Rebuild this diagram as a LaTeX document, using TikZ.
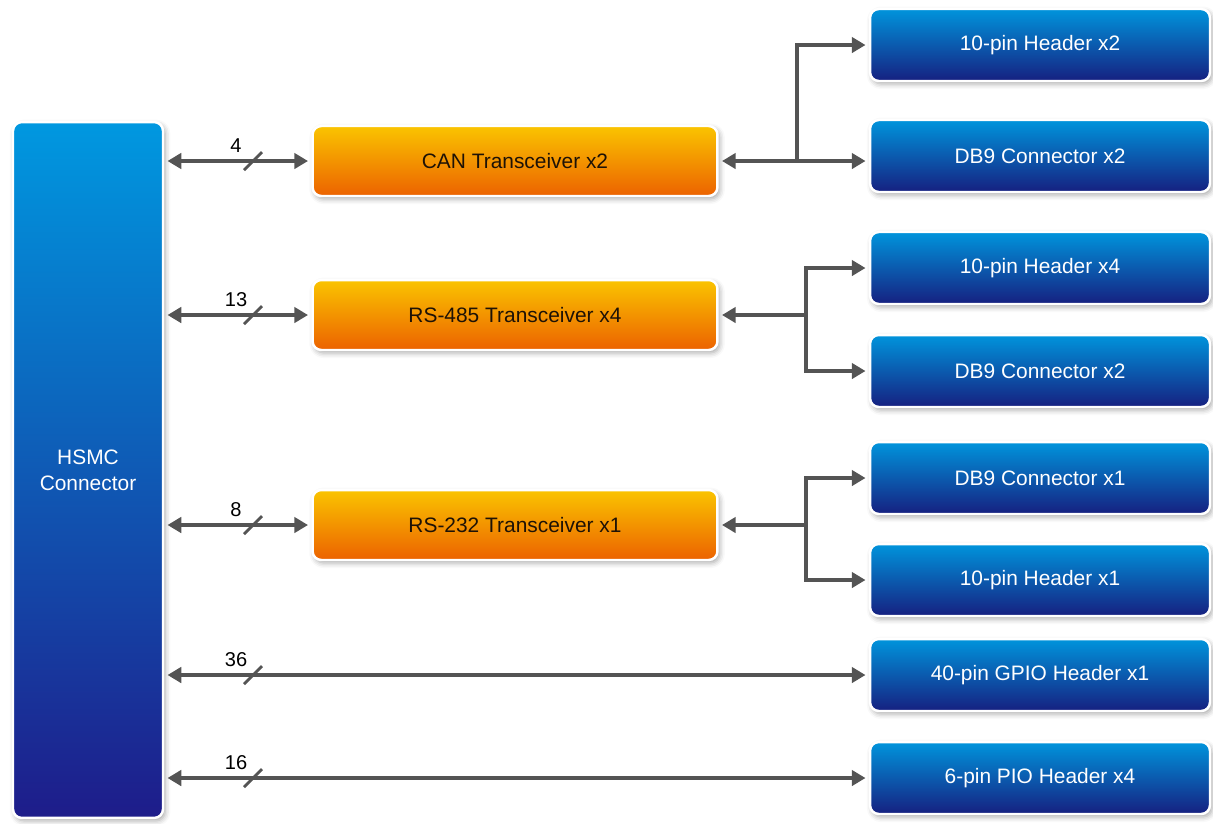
\documentclass[tikz,border=0pt]{standalone}
\usepackage{fontspec}
\setmainfont{Liberation Sans}
\usepackage{tikz}
\usetikzlibrary{arrows.meta,calc,shadows.blur}
\definecolor{hsmctop}{RGB}{0,152,224}
\definecolor{hsmcmid}{RGB}{0,88,178}
\definecolor{hsmcbot}{RGB}{30,28,138}
\definecolor{porttop}{RGB}{0,148,220}
\definecolor{portmid}{RGB}{8,80,180}
\definecolor{portbot}{RGB}{22,32,128}
\definecolor{xcvrtop}{RGB}{250,196,0}
\definecolor{xcvrmid}{RGB}{246,150,0}
\definecolor{xcvrbot}{RGB}{236,98,0}
\definecolor{wiregray}{RGB}{84,84,84}
\definecolor{xcvrtext}{RGB}{30,18,6}
\tikzset{
  box/.style={draw=white,line width=1.4pt,rounded corners=5pt,inner sep=0pt,outer sep=2.6pt,
    blur shadow={shadow xshift=1.2pt,shadow yshift=-1.6pt,shadow blur radius=3pt,shadow opacity=35},
    font=\fontsize{11.9}{14.7}\selectfont,align=center},
  hsmcbox/.style={box,top color=hsmctop,middle color=hsmcmid,bottom color=hsmcbot,text=white,
    minimum width=3cm,minimum height=13.92cm},
  xcvr/.style={box,top color=xcvrtop,middle color=xcvrmid,bottom color=xcvrbot,text=xcvrtext,
    minimum width=8.1cm,minimum height=1.4cm},
  port/.style={box,top color=porttop,middle color=portmid,bottom color=portbot,text=white,
    minimum width=6.8cm,minimum height=1.44cm},
  tip/.tip={Triangle[length=7.8pt,width=8.8pt]},
  bus/.style={line width=1.8pt,draw=wiregray,tip-tip},
  feed/.style={line width=1.8pt,draw=wiregray,-tip},
  busslash/.style={line width=1.6pt,draw=wiregray},
  buslbl/.style={font=\fontsize{11.4}{13}\selectfont,inner sep=0pt},
}
\begin{document}
\begin{tikzpicture}[x=0.02cm,y=-0.02cm]
  \useasboundingbox (0,0) rectangle (1213,823);
  % left side connector
  \node[hsmcbox] (hsmc) at (88,470) {HSMC\\Connector};
  % transceivers
  \node[xcvr] (can)   at (515,161) {CAN Transceiver x2};
  \node[xcvr] (rs485) at (515,315) {RS-485 Transceiver x4};
  \node[xcvr] (rs232) at (515,525) {RS-232 Transceiver x1};
  % external ports
  \node[port] (hdrA) at (1040,45)  {10-pin Header x2};
  \node[port] (dbA)  at (1040,156) {DB9 Connector x2};
  \node[port] (hdrB) at (1040,268) {10-pin Header x4};
  \node[port] (dbB)  at (1040,371) {DB9 Connector x2};
  \node[port] (dbC)  at (1040,478) {DB9 Connector x1};
  \node[port] (hdrC) at (1040,580) {10-pin Header x1};
  \node[port] (gpio) at (1040,675) {40-pin GPIO Header x1};
  \node[port] (pio)  at (1040,778) {6-pin PIO Header x4};

  % buses from the HSMC connector, with width marks
  \foreach \r/\n in {can/4,rs485/13,rs232/8,gpio/36,pio/16}{
    \draw[bus] (hsmc.east |- \r.west) -- (\r.west);
    \coordinate (s\r) at (253,0 |- \r.west);
    \draw[busslash] ($(s\r)+(-9,9)$) -- ($(s\r)+(9,-9)$);
    \node[buslbl] (l\r) at ($(s\r)+(-17,-15)$) {\n};
  }

  % fan-out to the ports
  \coordinate (canj) at (797,161);
  \coordinate (rs485j) at (806,315);
  \coordinate (rs232j) at (806,525);
  \draw[feed] (canj) -- (can.east);
  \draw[feed] (canj) |- (hdrA.west);
  \draw[feed] (canj) -- (canj -| dbA.west);
  \draw[feed] (rs485j) -- (rs485.east);
  \draw[feed] (rs485j) |- (hdrB.west);
  \draw[feed] (rs485j) |- (dbB.west);
  \draw[feed] (rs232j) -- (rs232.east);
  \draw[feed] (rs232j) |- (dbC.west);
  \draw[feed] (rs232j) |- (hdrC.west);
\end{tikzpicture}
\end{document}
